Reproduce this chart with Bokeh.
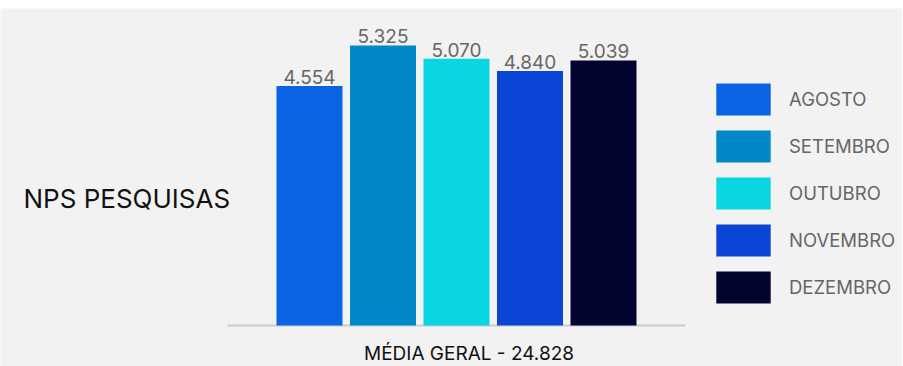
from bokeh.plotting import figure
from bokeh.models import Range1d, Label, Legend, LegendItem, ColumnDataSource
from bokeh.core.properties import value
from bokeh.embed import file_html
from bokeh.resources import INLINE

months = ["AGOSTO", "SETEMBRO", "OUTUBRO", "NOVEMBRO", "DEZEMBRO"]
scores = [4.554, 5.325, 5.070, 4.840, 5.039]
colors = ["#0a64e4", "#0288c8", "#0ad5e2", "#0a45d6", "#03032f"]
title_text = "NPS PESQUISAS"
footer_text = "MÉDIA GERAL - 24.828"

FONT = "Inter"
n = len(months)
positions = list(range(n))

src = ColumnDataSource(dict(
    x=positions,
    month=months,
    score=scores,
    color=colors,
    label=[f"{v:.3f}" for v in scores],
))

p = figure(
    width=902, height=358,
    x_range=Range1d(-4.204, 8.068),
    y_range=Range1d(-0.7795, 6.0266),
    x_axis_location=None, y_axis_location=None,
    output_backend="svg", toolbar_location=None,
    min_border=0, min_border_left=0, min_border_right=0,
    min_border_top=0, min_border_bottom=0,
    background_fill_color="#f2f2f2", border_fill_color="#f2f2f2",
    outline_line_color=None,
    margin=(8, 0, 0, 0),
)
p.grid.visible = False

# baseline (axis line)
p.segment(x0=[-0.5 - 0.616], x1=[n - 0.5 + 0.616], y0=[0], y1=[0],
          line_color="#cccccc", line_width=2)

bars = p.vbar(x="x", top="score", width=0.898, fill_color="color",
              line_color=None, source=src)

p.text(x="x", y="score", text="label", source=src,
       text_align="center", text_baseline="bottom", y_offset=-2,
       text_color="#666666", text_font=value(FONT), text_font_size="19px")

legend = Legend(
    items=[LegendItem(label=m, renderers=[bars], index=i) for i, m in enumerate(months)],
    location=(709, 59),
    padding=0, margin=0, spacing=7,
    glyph_width=68, glyph_height=40, label_standoff=12,
    label_text_font=FONT, label_text_font_size="18.5px", label_text_color="#666666",
    background_fill_alpha=0, border_line_alpha=0,
)
p.add_layout(legend)

p.add_layout(Label(x=23, y=168, x_units="screen", y_units="screen",
                   text=title_text, text_baseline="middle", text_align="left",
                   text_font=FONT, text_font_size="26px", text_color="#111111"))
p.add_layout(Label(x=468.5, y=13, x_units="screen", y_units="screen",
                   text=footer_text, text_baseline="middle", text_align="center",
                   text_font=FONT, text_font_size="19px", text_color="#111111"))

open("out.html", "w").write(file_html(p, INLINE))
